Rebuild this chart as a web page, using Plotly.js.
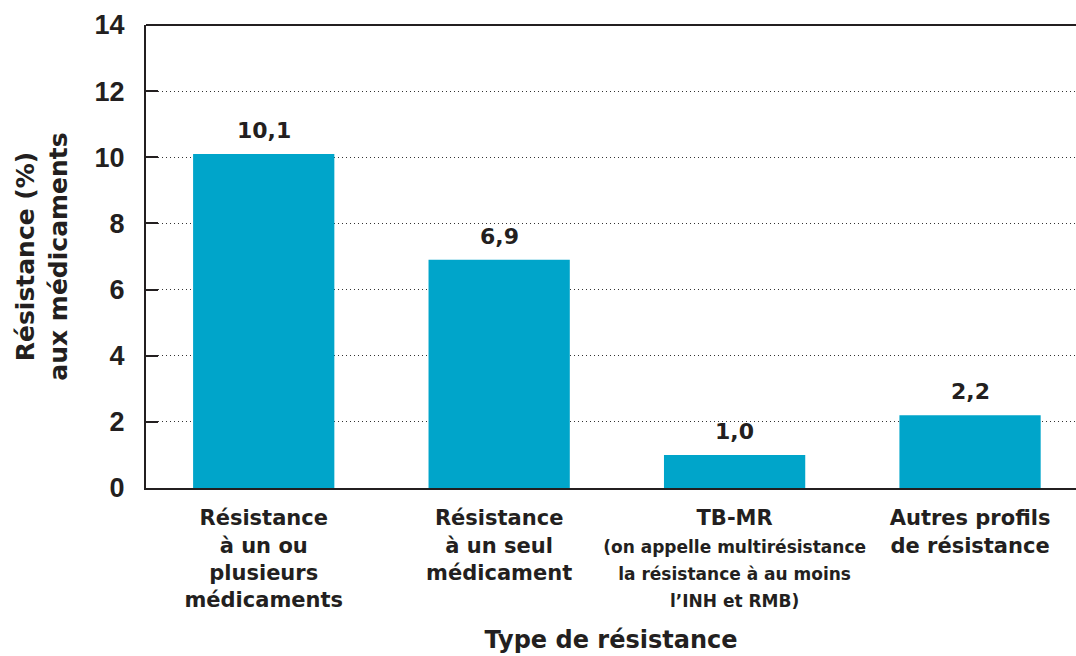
<!DOCTYPE html>
<html>
<head>
<meta charset="utf-8">
<script src="https://cdn.plot.ly/plotly-3.0.1.min.js"></script>
<style>
  html, body { margin: 0; padding: 0; background: #fff; }
  #chart { width: 1076px; height: 656px; }
</style>
</head>
<body>
<div id="chart"></div>
<script>
// Types de résistance et pourcentages
const categories = ['r1', 'r2', 'r3', 'r4'];
const tickLabels = [
  'Résistance<br>à un ou<br>plusieurs<br>médicaments',
  'Résistance<br>à un seul<br>médicament',
  'TB-MR<br><span style="font-size:17px">(on appelle multirésistance</span><br><span style="font-size:17px">la résistance à au moins</span><br><span style="font-size:17px">l\u2019INH et RMB)</span>',
  'Autres profils<br>de résistance'
];
const values = [10.1, 6.9, 1.0, 2.2];
const yTicks = [0, 2, 4, 6, 8, 10, 12, 14];

const INK = '#231f20';
const WIDE = 'DejaVu Sans, sans-serif';          // texte large (libellés, titres)
const NARROW = 'Liberation Sans, Arial, sans-serif'; // graduations de l'axe Y
const fmt = v => v.toFixed(1).replace('.', ',');

const trace = {
  type: 'bar',
  x: categories,
  y: values,
  width: 0.6,
  marker: { color: '#00a5ca', line: { width: 0 } },
  hoverinfo: 'skip'
};

// étiquettes au-dessus des barres
const labels = categories.map((c, i) => ({
  x: c, y: values[i], xref: 'x', yref: 'y',
  text: '<b>' + fmt(values[i]) + '</b>',
  showarrow: false, yanchor: 'bottom', yshift: 9,
  font: { family: WIDE, size: 22, color: INK }
}));

const layout = {
  width: 1076, height: 656,
  margin: { l: 146, r: 0, t: 25, b: 168 },
  paper_bgcolor: '#fff', plot_bgcolor: '#fff',
  showlegend: false,
  font: { family: WIDE, color: INK },
  xaxis: {
    type: 'category',
    range: [-0.5, 3.45],
    tickvals: categories,
    ticktext: tickLabels.map(t => '<b>' + t + '</b>'),
    tickfont: { family: WIDE, size: 21, color: INK },
    ticks: '', showgrid: false, zeroline: false,
    ticklabelstandoff: 10,
    showline: true, linecolor: INK, linewidth: 2,
    title: { text: '<b>Type de résistance</b>', font: { family: WIDE, size: 24, color: INK }, standoff: 20 }
  },
  yaxis: {
    range: [0, 14],
    tickvals: yTicks,
    ticktext: yTicks.map(v => '<b>' + v + '</b>'),
    tickfont: { family: NARROW, size: 27, color: INK },
    ticks: 'inside', ticklen: 12, tickwidth: 2, tickcolor: INK,
    showgrid: true, gridcolor: '#333', gridwidth: 1, griddash: '1px,3px',
    zeroline: false,
    showline: true, linecolor: INK, linewidth: 2,
    ticklabelstandoff: 14,
    title: { text: '<b>Résistance (%)<br>aux médicaments</b>', font: { family: WIDE, size: 25, color: INK }, standoff: 20 }
  },
  shapes: [{
    type: 'line', xref: 'paper', yref: 'paper', x0: 0, x1: 1, y0: 1, y1: 1,
    line: { color: INK, width: 2 }
  }],
  annotations: labels
};

Plotly.newPlot('chart', [trace], layout, { displayModeBar: false, staticPlot: true });
</script>
</body>
</html>
